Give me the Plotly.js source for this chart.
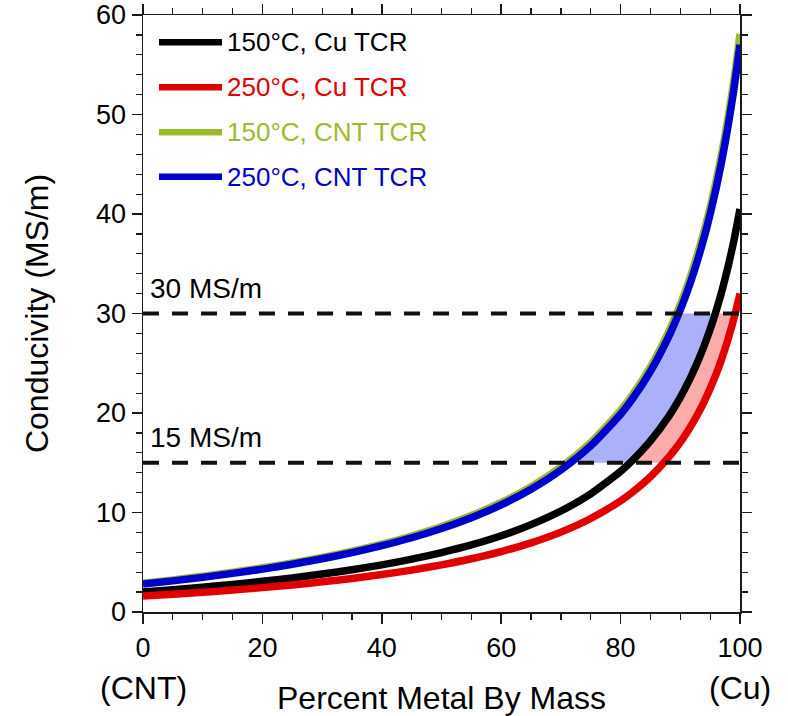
<!DOCTYPE html>
<html>
<head>
<meta charset="utf-8">
<script src="https://cdn.plot.ly/plotly-3.0.1.min.js"></script>
<style>
  html, body { margin: 0; padding: 0; background: #ffffff; }
  #chart { width: 788px; height: 716px; }
</style>
</head>
<body>
<div id="chart"></div>
<script>
// ---------------- data ----------------
const pctMetal = [0, 5, 10, 15, 20, 25, 30, 35, 40, 45, 50, 55, 60, 65, 70, 75, 80, 82, 85, 88, 90, 91, 92, 93, 94, 95, 96, 97, 98, 99, 100];

const cu150 = [2.00, 2.23, 2.49, 2.77, 3.08, 3.42, 3.81, 4.24, 4.74, 5.31, 5.97, 6.74, 7.66, 8.78, 10.15, 11.88, 14.13, 15.24, 17.19, 19.61, 21.58, 22.70, 23.92, 25.27, 26.76, 28.41, 30.26, 32.34, 34.70, 37.39, 40.50];
const cu250 = [1.60, 1.78, 1.98, 2.20, 2.45, 2.72, 3.03, 3.37, 3.76, 4.21, 4.74, 5.35, 6.07, 6.95, 8.03, 9.40, 11.18, 12.05, 13.59, 15.51, 17.06, 17.94, 18.91, 19.97, 21.15, 22.46, 23.91, 25.56, 27.42, 29.55, 32.00];
const cnt150 = [2.90, 3.23, 3.60, 4.00, 4.44, 4.93, 5.49, 6.11, 6.82, 7.64, 8.58, 9.69, 11.01, 12.60, 14.56, 17.03, 20.26, 21.84, 24.64, 28.11, 30.92, 32.52, 34.28, 36.20, 38.33, 40.70, 43.35, 46.32, 49.70, 53.55, 58.10];
const cnt250 = [2.80, 3.13, 3.48, 3.88, 4.31, 4.80, 5.35, 5.96, 6.66, 7.46, 8.39, 9.48, 10.77, 12.34, 14.27, 16.70, 19.88, 21.43, 24.18, 27.60, 30.37, 31.94, 33.66, 35.56, 37.65, 39.98, 42.58, 45.51, 48.83, 52.62, 57.00];

const seriesNames = ['150°C, Cu TCR', '250°C, Cu TCR', '150°C, CNT TCR', '250°C, CNT TCR'];
const thresholds = [15, 30];
const thresholdLabels = ['15 MS/m', '30 MS/m'];
const xTickVals = [0, 20, 40, 60, 80, 100];
const yTickVals = [0, 10, 20, 30, 40, 50, 60];
const endLabels = ['(CNT)', '(Cu)'];

// ---------------- styles ----------------
const colors = ['#000000', '#e00000', '#9bbb2c', '#0000cc'];
const fillBlue = 'rgb(170,176,250)';
const fillPink = 'rgb(253,172,172)';
const FONT = 'Liberation Sans, Arial, Helvetica, sans-serif';

// ---------------- helpers: band between two curves, limited to [lo, hi] ----------------
function crossX(xs, ys, level) {
  for (let i = 0; i < ys.length - 1; i++) {
    if (ys[i] <= level && ys[i + 1] >= level) {
      return xs[i] + (level - ys[i]) / (ys[i + 1] - ys[i]) * (xs[i + 1] - xs[i]);
    }
  }
  return xs[xs.length - 1];
}
function segment(xs, ys, lo, hi) {
  const sx = [crossX(xs, ys, lo)], sy = [lo];
  for (let i = 0; i < xs.length; i++) {
    if (ys[i] > lo && ys[i] < hi) { sx.push(xs[i]); sy.push(ys[i]); }
  }
  sx.push(crossX(xs, ys, hi)); sy.push(hi);
  return { x: sx, y: sy };
}
function band(xs, leftY, rightY, lo, hi) {
  const a = segment(xs, leftY, lo, hi);
  const b = segment(xs, rightY, lo, hi);
  return { x: a.x.concat(b.x.slice().reverse()), y: a.y.concat(b.y.slice().reverse()) };
}

const lo = thresholds[0], hi = thresholds[1];
const blueBand = band(pctMetal, cnt250, cu150, lo, hi);
const pinkBand = band(pctMetal, cu150, cu250, lo, hi);

const traces = [
  { x: blueBand.x, y: blueBand.y, type: 'scatter', mode: 'lines', fill: 'toself', fillcolor: fillBlue,
    line: { width: 0, color: fillBlue }, hoverinfo: 'skip', showlegend: false },
  { x: pinkBand.x, y: pinkBand.y, type: 'scatter', mode: 'lines', fill: 'toself', fillcolor: fillPink,
    line: { width: 0, color: fillPink }, hoverinfo: 'skip', showlegend: false },
];
const seriesData = [cu150, cu250, cnt150, cnt250];
seriesData.forEach((ys, i) => {
  traces.push({
    x: pctMetal, y: ys, type: 'scatter', mode: 'lines', name: seriesNames[i],
    line: { color: colors[i], width: 7.5, shape: 'spline', smoothing: 0.6 },
    cliponaxis: false, showlegend: false
  });
});

// ---------------- layout ----------------
const M = { l: 143, r: 48, t: 15, b: 104 };
const PW = 788 - M.l - M.r, PH = 716 - M.t - M.b;
const px2x = p => (p - M.l) / PW;
const px2y = p => (716 - M.b - p) / PH;

const shapes = [];
const annotations = [];

thresholds.forEach((t, i) => {
  shapes.push({ type: 'line', xref: 'paper', yref: 'y', x0: 0, x1: 1, y0: t, y1: t, layer: 'above',
    line: { color: '#111111', width: 4, dash: '16px,13px' } });
  annotations.push({ xref: 'paper', yref: 'y', x: 0, y: t, xanchor: 'left', yanchor: 'middle',
    xshift: 5, yshift: 25, showarrow: false, text: thresholdLabels[i],
    font: { family: FONT, size: 28, color: '#000' } });
});

// custom legend (long line samples, coloured text)
const legendRows = [42.3, 87.3, 132.3, 176.7];
seriesNames.forEach((n, i) => {
  shapes.push({ type: 'line', xref: 'paper', yref: 'paper', x0: px2x(159), x1: px2x(222),
    y0: px2y(legendRows[i]), y1: px2y(legendRows[i]), line: { color: colors[i], width: 6.5 } });
  annotations.push({ xref: 'paper', yref: 'paper', x: px2x(225), y: px2y(legendRows[i]),
    xanchor: 'left', yanchor: 'middle', showarrow: false, text: n,
    font: { family: FONT, size: 26, color: colors[i] } });
});

// (CNT) / (Cu) end labels
annotations.push({ xref: 'x', yref: 'paper', x: xTickVals[0], y: px2y(688), xanchor: 'center', yanchor: 'middle',
  showarrow: false, text: endLabels[0], font: { family: FONT, size: 32, color: '#000' } });
annotations.push({ xref: 'x', yref: 'paper', x: xTickVals[xTickVals.length - 1], y: px2y(688), xanchor: 'center', yanchor: 'middle',
  showarrow: false, text: endLabels[1], font: { family: FONT, size: 32, color: '#000' } });

const axisCommon = {
  showline: true, linecolor: '#1a1a1a', linewidth: 1.5, mirror: 'allticks',
  ticks: 'outside', ticklen: 10, tickwidth: 1.5, tickcolor: '#1a1a1a',
  showgrid: false, zeroline: false,
  tickfont: { family: FONT, size: 27, color: '#000' }
};

const layout = {
  width: 788, height: 716,
  margin: M,
  paper_bgcolor: '#ffffff', plot_bgcolor: '#ffffff',
  showlegend: false,
  xaxis: Object.assign({}, axisCommon, {
    range: [0, 100], tickvals: xTickVals, ticklabelstandoff: 1,
    minor: { dtick: 5, ticks: 'outside', ticklen: 6, tickwidth: 1.2, tickcolor: '#1a1a1a' },
    title: { text: 'Percent Metal By Mass', font: { family: FONT, size: 32, color: '#000' }, standoff: 34 }
  }),
  yaxis: Object.assign({}, axisCommon, {
    range: [0, 60], tickvals: yTickVals,
    minor: { dtick: 2, ticks: 'outside', ticklen: 6, tickwidth: 1.2, tickcolor: '#1a1a1a' },
    title: { text: 'Conducivity (MS/m)', font: { family: FONT, size: 32, color: '#000' }, standoff: 38 }
  }),
  shapes: shapes,
  annotations: annotations
};

Plotly.newPlot('chart', traces, layout, { displayModeBar: false, staticPlot: true });
</script>
</body>
</html>
